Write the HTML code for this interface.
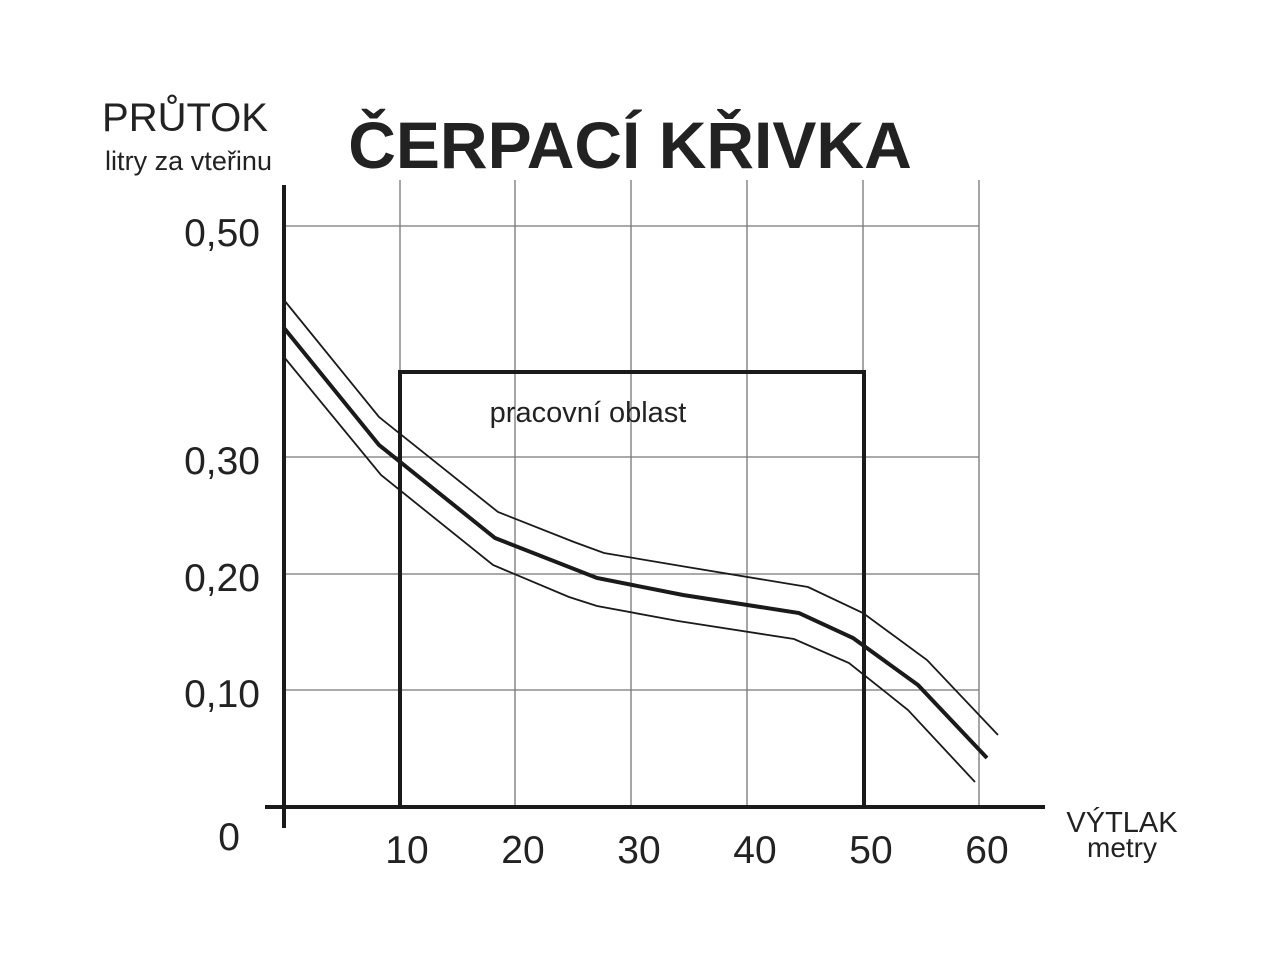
<!DOCTYPE html>
<html><head><meta charset="utf-8"><style>body{margin:0;background:#fff}</style></head><body>
<svg width="1280" height="960" xmlns="http://www.w3.org/2000/svg" font-family="Liberation Sans, sans-serif" fill="#222">
<g stroke="#777" stroke-width="1.3">
<line x1="400" y1="180" x2="400" y2="807"/><line x1="515" y1="180" x2="515" y2="807"/><line x1="631" y1="180" x2="631" y2="807"/><line x1="747" y1="180" x2="747" y2="807"/><line x1="863" y1="180" x2="863" y2="807"/><line x1="979" y1="180" x2="979" y2="807"/>
<line x1="284" y1="226" x2="979" y2="226"/><line x1="284" y1="457" x2="979" y2="457"/><line x1="284" y1="574" x2="979" y2="574"/><line x1="284" y1="690" x2="979" y2="690"/>
</g>
<g stroke="#1a1a1a" fill="none">
<line x1="284" y1="185" x2="284" y2="828" stroke-width="4"/>
<line x1="265" y1="807" x2="1045" y2="807" stroke-width="4"/>
<polyline points="400,807 400,372 864,372 864,807" stroke-width="4"/>
<polyline stroke-width="4" points="284,328 379,445 495,538 597,578 683,595 799,613 853,638 918,685 987,758"/>
<polyline stroke-width="1.8" points="284,300 379,417 498,512 574,542 604,553 687,567 808,587 863,613 927,660 998,735"/>
<polyline stroke-width="1.8" points="284,357 381,475 493,565 569,597 597,606 678,621 794,639 849,663 908,710 975,782"/>
</g>
<text x="185" y="131" font-size="40" text-anchor="middle">PRŮTOK</text>
<text x="272" y="170" font-size="27" text-anchor="end" textLength="167">litry za vteřinu</text>
<text x="630" y="168" font-size="66" font-weight="bold" text-anchor="middle">ČERPACÍ KŘIVKA</text>
<g font-size="39" text-anchor="end">
<text x="260" y="246">0,50</text><text x="260" y="474">0,30</text><text x="260" y="591">0,20</text><text x="260" y="707">0,10</text><text x="240" y="850">0</text>
</g>
<g font-size="39" text-anchor="middle">
<text x="407" y="863">10</text><text x="523" y="863">20</text><text x="639" y="863">30</text><text x="755" y="863">40</text><text x="871" y="863">50</text><text x="987" y="863">60</text>
</g>
<text x="1122" y="832" font-size="29" text-anchor="middle">VÝTLAK</text>
<text x="1122" y="857" font-size="28" text-anchor="middle">metry</text>
<text x="588" y="422" font-size="29" text-anchor="middle">pracovní oblast</text>
</svg>
</body></html>
